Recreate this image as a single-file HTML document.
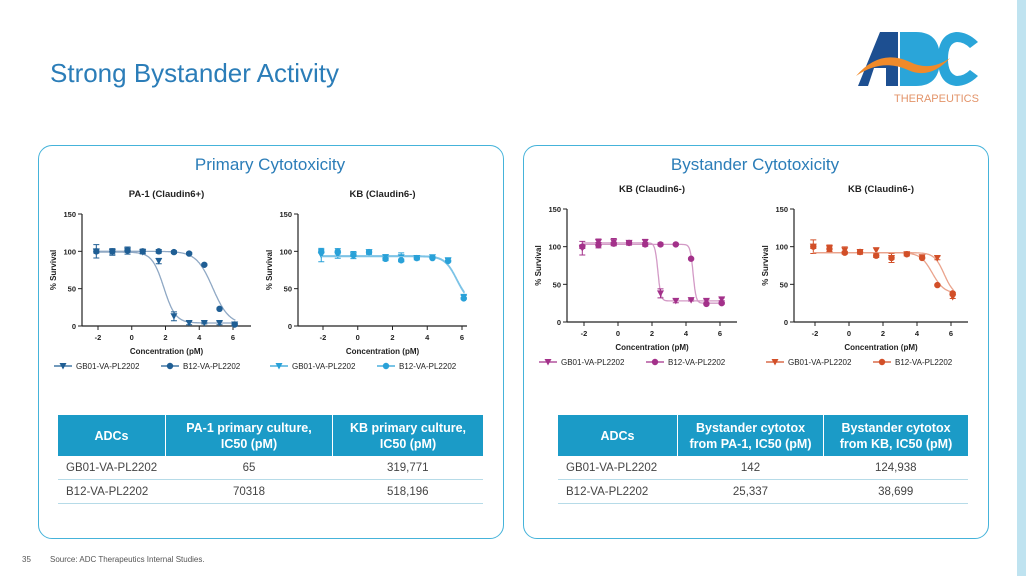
<!DOCTYPE html>
<html><head><meta charset="utf-8">
<style>
body{margin:0;width:1026px;height:576px;overflow:hidden;background:#fff;font-family:"Liberation Sans",sans-serif;position:relative}
.abs{position:absolute}
.panel{position:absolute;border:1.5px solid #45b3da;border-radius:14px;top:145px;height:392px;width:464px}
.ptitle{position:absolute;top:155px;font-size:17px;color:#2b7db8;width:464px;text-align:center}
table{position:absolute;border-collapse:collapse;font-family:"Liberation Sans",sans-serif;font-size:11.5px;color:#444}
th{background:#1b9bc7;color:#fff;font-weight:bold;font-size:12.5px;height:41px;border-right:1px solid #fff;line-height:16px;padding:0}
th:last-child{border-right:none}
td{height:23px;border-bottom:1.5px solid #b6dbe8;text-align:center;padding:0}
td:first-child{text-align:left;padding-left:8px}
</style></head><body>
<div class="abs" style="left:50px;top:58px;font-size:26px;color:#2b7db8">Strong Bystander Activity</div>
<div class="abs" style="left:1017px;top:0;width:9px;height:576px;background:#bfe3f0"></div>
<div class="abs" style="left:850px;top:28px;width:140px;height:80px">
<svg width="140" height="80">
<path d="M8,58 L30,4 L48,4 L48,58 L36,58 L36,40 L24,40 L18,58Z" fill="#1d4f91"/>
<path d="M50,4 L66,4 Q90,4 90,31 Q90,58 66,58 L50,58Z" fill="#2aa5d9"/>
<path d="M128,14 Q118,4 106,4 Q88,6 88,31 Q88,56 106,58 Q118,58 128,48 L120,42 Q114,48 107,48 Q98,46 98,31 Q98,15 107,14 Q114,14 120,20Z" fill="#2aa5d9"/>
<path d="M6,48 Q30,20 60,34 Q80,44 100,30 Q80,52 58,42 Q32,30 6,48Z" fill="#f08a2a"/>
<text x="44" y="74" font-size="11" fill="#e3946a" font-family="Liberation Sans">THERAPEUTICS</text>
</svg></div>

<div class="panel" style="left:38px"></div>
<div class="panel" style="left:523px"></div>
<div class="ptitle" style="left:38px">Primary Cytotoxicity</div>
<div class="ptitle" style="left:523px">Bystander Cytotoxicity</div>

<svg id="charts" class="abs" style="left:0;top:0" width="1026" height="576"></svg>

<table style="left:58px;top:415px;width:425px">
<tr><th style="width:107px">ADCs</th><th style="width:166px">PA-1 primary culture,<br>IC50 (pM)</th><th>KB primary culture,<br>IC50 (pM)</th></tr>
<tr><td>GB01-VA-PL2202</td><td>65</td><td>319,771</td></tr>
<tr><td>B12-VA-PL2202</td><td>70318</td><td>518,196</td></tr>
</table>
<table style="left:558px;top:415px;width:410px">
<tr><th style="width:119px">ADCs</th><th style="width:145px">Bystander cytotox<br>from PA-1, IC50 (pM)</th><th>Bystander cytotox<br>from KB, IC50 (pM)</th></tr>
<tr><td>GB01-VA-PL2202</td><td>142</td><td>124,938</td></tr>
<tr><td>B12-VA-PL2202</td><td>25,337</td><td>38,699</td></tr>
</table>

<div class="abs" style="left:22px;top:555px;font-size:8px;color:#555">35</div>
<div class="abs" style="left:50px;top:555px;font-size:8px;color:#555">Source: ADC Therapeutics Internal Studies.</div>

<script>
const concX=[-2.1,-1.15,-0.25,0.65,1.6,2.5,3.4,4.3,5.2,6.1];
const c1GB=[100,99,101,99,87,13,4,4,4,2];
const c1B12=[100,100,101,100,100,99,97,82,23,2];
const c2GB=[95,95,95,99,92,92,91,92,88,39];
const c2B12=[100,100,95,99,90,88,91,91,87,37];
const c3GB=[98,106,106,105,106,38,28,29,28,30];
const c3B12=[100,102,104,105,103,103,103,84,24,25];
const c4GB=[100,98,95,93,95,85,90,86,85,33];
const c4B12=[100,97,92,93,88,85,90,85,49,38];
const errs=[4,6,3,5,4,3,2,2,2,2];
const errs2=[15,7,8,4,6,10,4,2,4,3];
const xTicks=[-2,0,2,4,6];
const yTicks=[0,50,100,150];
// fitted curve params: [top,bottom,logIC50,hill]
const fit1=[[99,4,1.9,2.5],[100,2,4.8,1.8]];
const fit2=[[94,32,5.7,2.5],[93,30,5.7,2.5]];
const fit3=[[105,28,2.35,10],[103,25,4.42,10]];
const fit4=[[92,35,5.6,3],[92,38,4.9,2.5]];

const svg=document.getElementById('charts');
const NS='http://www.w3.org/2000/svg';
function mk(t,a,p){const e=document.createElementNS(NS,t);for(const k in a)e.setAttribute(k,a[k]);(p||svg).appendChild(e);return e;}
function txt(x,y,s,size,anchor,weight,p){const e=mk('text',{x:x,y:y,'font-size':size,'text-anchor':anchor||'middle','font-weight':weight||'normal','font-family':'Liberation Sans, sans-serif',fill:'#222'},p);e.textContent=s;return e;}
function marker(g,shape,x,y,col){
 if(shape==='tri'){const e=mk('path',{d:`M${x-3.5},${y-3} L${x+3.5},${y-3} L${x},${y+3.5}Z`,fill:col},g);}
 else{const e=mk('circle',{cx:x,cy:y,r:3.2,fill:col},g);}
}
function chart(o){
 const g=mk('g',{});
 
 
 const sx=v=>o.x0+(v+2)*(o.x6-o.x0)/8, sy=v=>o.y0-v*(o.y0-o.y150)/150;
 txt((o.ax+o.axEnd)/2,o.y150-17,o.title,9.5,'middle','bold',g);
 mk('line',{x1:o.ax,y1:o.y150,x2:o.ax,y2:o.y0,stroke:'#222','stroke-width':1.2},g);
 mk('line',{x1:o.ax,y1:o.y0,x2:o.axEnd,y2:o.y0,stroke:'#222','stroke-width':1.2},g);
 yTicks.forEach(t=>{mk('line',{x1:o.ax-4,y1:sy(t),x2:o.ax,y2:sy(t),stroke:'#222'},g);txt(o.ax-6,sy(t)+3,String(t),7.5,'end','bold',g);});
 xTicks.forEach(t=>{mk('line',{x1:sx(t),y1:o.y0,x2:sx(t),y2:o.y0+4,stroke:'#222'},g);txt(sx(t),o.y0+14,String(t),7.5,'middle','bold',g);});
 txt((o.ax+o.axEnd)/2,o.y0+28,'Concentration (pM)',8,'middle','bold',g);
 const yl=txt(0,0,'% Survival',8,'middle','bold',g);yl.setAttribute('transform',`translate(${o.ax-26},${(o.y0+o.y150)/2}) rotate(-90)`);
 o.series.forEach((s,i)=>{
  const f=o.fit[i];let d='';
  for(let v=-2.1;v<=6.15;v+=0.02){const y=f[1]+(f[0]-f[1])/(1+Math.pow(10,(v-f[2])*f[3]/2));d+=(d?'L':'M')+sx(v).toFixed(1)+','+sy(y).toFixed(1);}
  const c=mk('path',{d:d,fill:'none',stroke:o.light,'stroke-width':1.3},g);
  
  
  s.forEach((v,j)=>{const e=(i?errs:errs2)[j]*0.6;const x=sx(concX[j]);
   mk('path',{d:`M${x},${sy(v+e)}V${sy(v-e)}M${x-3},${sy(v+e)}H${x+3}M${x-3},${sy(v-e)}H${x+3}`,stroke:o.col,'stroke-width':1,fill:'none'},g);
   marker(g,i?'circ':'tri',x,sy(v),o.col);});
 });
 const ly=o.y0+40, lx=o.ax-28;
 mk('line',{x1:lx,y1:ly,x2:lx+18,y2:ly,stroke:o.col,'stroke-width':1.2},g);marker(g,'tri',lx+9,ly,o.col);
 txt(lx+22,ly+3,'GB01-VA-PL2202',8,'start','normal',g);
 mk('line',{x1:lx+107,y1:ly,x2:lx+125,y2:ly,stroke:o.col,'stroke-width':1.2},g);marker(g,'circ',lx+116,ly,o.col);
 txt(lx+129,ly+3,'B12-VA-PL2202',8,'start','normal',g);
}
chart({name:'pa1-chart',title:'PA-1 (Claudin6+)',ax:82,axEnd:251,x0:98,x6:233,y0:326,y150:214,col:'#1f5e94',light:'#8fa8c4',series:[c1GB,c1B12],fit:fit1});
chart({name:'kb-primary-chart',title:'KB (Claudin6-)',ax:298,axEnd:467,x0:323,x6:462,y0:326,y150:214,col:'#29a1d8',light:'#7cc3e6',series:[c2GB,c2B12],fit:fit2});
chart({name:'kb-bystander-pa1-chart',title:'KB (Claudin6-)',ax:567,axEnd:737,x0:584,x6:720,y0:322,y150:209,col:'#a3318a',light:'#d39ac6',series:[c3GB,c3B12],fit:fit3});
chart({name:'kb-bystander-kb-chart',title:'KB (Claudin6-)',ax:794,axEnd:968,x0:815,x6:951,y0:322,y150:209,col:'#d24f28',light:'#eaa38c',series:[c4GB,c4B12],fit:fit4});
</script>
</body></html>
